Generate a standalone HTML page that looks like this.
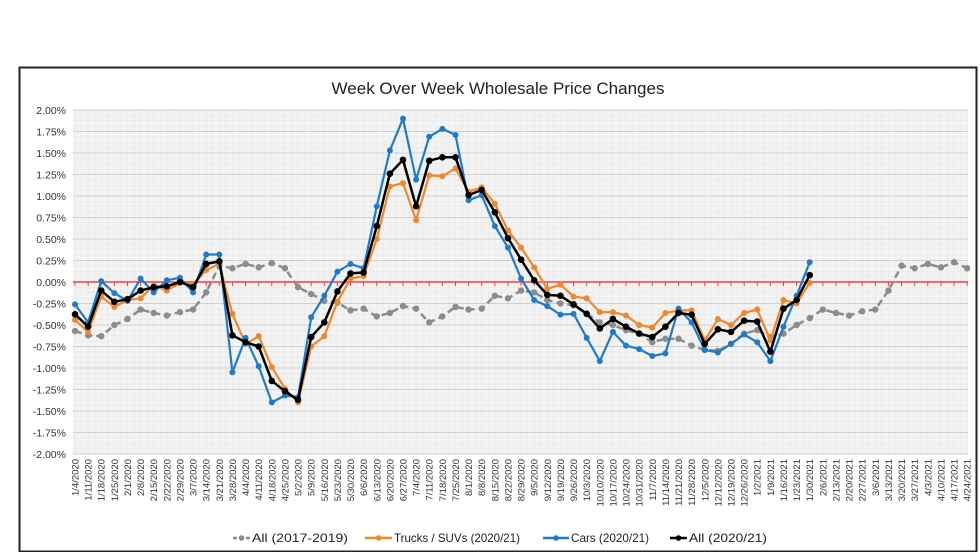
<!DOCTYPE html>
<html><head><meta charset="utf-8"><style>
html,body{margin:0;padding:0;background:#fff;}
svg{display:block;font-family:"Liberation Sans",Arial,sans-serif;}
</style></head><body>
<svg id="c" width="980" height="552" viewBox="0 0 980 552" xmlns="http://www.w3.org/2000/svg"></svg>
<script>
const NS="http://www.w3.org/2000/svg";
const svg=document.getElementById('c');
function el(t,a,p){const e=document.createElementNS(NS,t);for(const k in a)e.setAttribute(k,a[k]);(p||svg).appendChild(e);return e;}
const X0=75,DX=13.12,Y0=282,S=86;
const px=i=>X0+i*DX, py=v=>Y0-v*S;
el('rect',{x:0,y:0,width:980,height:552,fill:'#fff'});
el('rect',{x:19.5,y:67.5,width:957,height:484,fill:'#fff',stroke:'#222','stroke-width':2});
const t=el('text',{x:498,y:94,'text-anchor':'middle','font-size':17,fill:'#222'});t.textContent='Week Over Week Wholesale Price Changes';
el('rect',{x:73,y:110,width:895,height:344,fill:'#f3f3f3'});
for(let v=2;v>=-2.001;v-=0.0625){el('line',{x1:73,x2:968,y1:py(v),y2:py(v),stroke:'#e4e4e4','stroke-width':0.6});}
for(let i=0;i<=68;i+=0.5){el('line',{x1:px(i),x2:px(i),y1:110,y2:454,stroke:'#e6e6e6','stroke-width':0.6});}
for(let k=0;k<=16;k++){const v=2-k*0.25;el('line',{x1:73,x2:968,y1:py(v),y2:py(v),stroke:'#cfcfcf','stroke-width':1});
 const l=el('text',{x:66,y:py(v)+4,'text-anchor':'end','font-size':10.5,fill:'#333'});l.textContent=(v<0?'-':'')+Math.abs(v).toFixed(2)+'%';}
el('line',{x1:73,x2:968,y1:Y0,y2:Y0,stroke:'#ff3b3b','stroke-width':1.5});
for(let i=0;i<=68;i++)el('line',{x1:px(i),x2:px(i),y1:Y0,y2:Y0+4,stroke:'#ff3b3b','stroke-width':1});
const d0=new Date(2020,0,4);
for(let i=0;i<=68;i++){const d=new Date(d0.getTime()+i*7*864e5+3600e3*12);const s=(d.getMonth()+1)+'/'+d.getDate()+'/'+d.getFullYear();
 const x=px(i)+3.5;const l=el('text',{x:x,y:459,'text-anchor':'end','font-size':9.5,fill:'#333',transform:`rotate(-90 ${x} 459)`});l.textContent=s;}
const gray=[-0.57,-0.62,-0.63,-0.50,-0.43,-0.32,-0.36,-0.39,-0.35,-0.32,-0.12,0.19,0.16,0.21,0.17,0.22,0.16,-0.06,-0.14,-0.22,-0.24,-0.33,-0.31,-0.40,-0.36,-0.28,-0.31,-0.47,-0.40,-0.29,-0.32,-0.31,-0.16,-0.19,-0.10,-0.12,-0.21,-0.25,-0.27,-0.37,-0.47,-0.50,-0.56,-0.60,-0.70,-0.66,-0.66,-0.74,-0.79,-0.80,-0.72,-0.60,-0.56,-0.64,-0.60,-0.50,-0.42,-0.32,-0.36,-0.39,-0.34,-0.32,-0.10,0.19,0.16,0.21,0.17,0.23,0.16];
const orange=[-0.44,-0.58,-0.17,-0.29,-0.21,-0.19,-0.04,-0.10,-0.01,-0.03,0.14,0.21,-0.37,-0.72,-0.63,-0.99,-1.24,-1.40,-0.75,-0.63,-0.23,0.04,0.07,0.50,1.11,1.15,0.72,1.24,1.23,1.32,1.05,1.10,0.91,0.60,0.40,0.17,-0.08,-0.03,-0.17,-0.19,-0.35,-0.35,-0.39,-0.50,-0.53,-0.36,-0.33,-0.33,-0.68,-0.43,-0.50,-0.36,-0.32,-0.68,-0.21,-0.25,-0.01];
const blue=[-0.26,-0.47,0.01,-0.13,-0.22,0.04,-0.12,0.02,0.05,-0.12,0.32,0.32,-1.05,-0.65,-0.98,-1.40,-1.32,-1.34,-0.41,-0.16,0.12,0.21,0.16,0.88,1.53,1.90,1.19,1.69,1.78,1.71,0.95,1.01,0.65,0.40,0.04,-0.21,-0.28,-0.38,-0.37,-0.65,-0.92,-0.58,-0.74,-0.78,-0.86,-0.83,-0.31,-0.47,-0.79,-0.82,-0.72,-0.61,-0.70,-0.92,-0.52,-0.16,0.23];
const black=[-0.376,-0.52,-0.10,-0.23,-0.20,-0.10,-0.06,-0.05,0.0,-0.06,0.21,0.24,-0.62,-0.70,-0.75,-1.15,-1.27,-1.37,-0.64,-0.47,-0.11,0.10,0.11,0.65,1.26,1.42,0.88,1.41,1.45,1.45,1.01,1.07,0.81,0.51,0.26,0.02,-0.15,-0.16,-0.26,-0.37,-0.54,-0.43,-0.52,-0.60,-0.64,-0.52,-0.36,-0.38,-0.72,-0.55,-0.58,-0.45,-0.46,-0.81,-0.31,-0.21,0.08];
function series(d,c,w,r,dash){const pts=d.map((v,i)=>px(i).toFixed(1)+','+py(v).toFixed(1)).join(' ');
 const a={points:pts,fill:'none',stroke:c,'stroke-width':w,'stroke-linejoin':'round'};if(dash)a['stroke-dasharray']=dash;el('polyline',a);
 d.forEach((v,i)=>el('circle',{cx:px(i),cy:py(v),r:r,fill:c}));}
series(gray,'#8c8c8c',2.5,3.2,'7,4');
series(orange,'#f0882a',2.2,3);
series(blue,'#1f7bc8',2.2,3);
series(black,'#000',2.5,3.3);
function leg(x,w,c,txt,tl,dash){const a={x1:x,x2:x+w,y1:538,y2:538,stroke:c,'stroke-width':2.5};if(dash)a['stroke-dasharray']='4,2.5';el('line',a);
 el('circle',{cx:x+w/2,cy:538,r:2.8,fill:c});const l=el('text',{x:x+w+2,y:542,'font-size':12,fill:'#222',textLength:tl,lengthAdjust:'spacingAndGlyphs'});l.textContent=txt;}
leg(233,17,'#8c8c8c','All (2017-2019)',96,true);
leg(365,27,'#f0882a','Trucks / SUVs (2020/21)',126);
leg(543,26,'#1f7bc8','Cars (2020/21)',78);
leg(670,17,'#000','All (2020/21)',78);
</script>
</body></html>
